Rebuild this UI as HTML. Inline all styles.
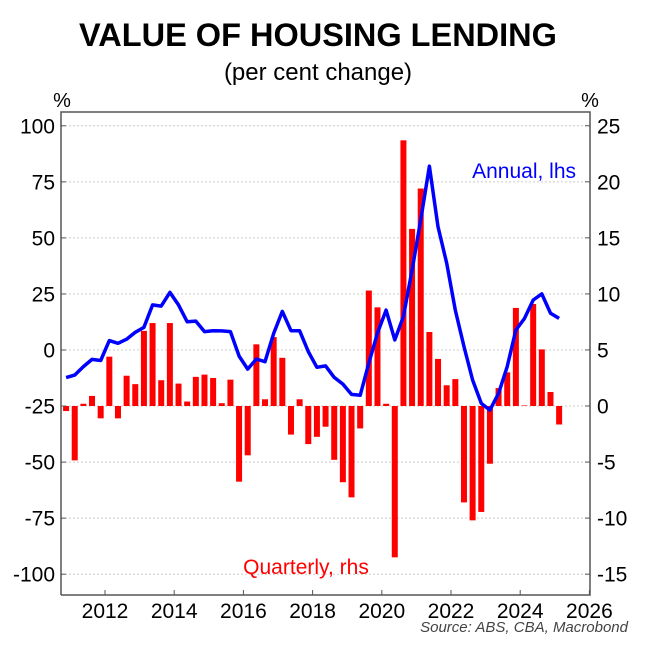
<!DOCTYPE html>
<html><head><meta charset="utf-8"><style>
body{margin:0;background:#fff;}
svg{display:block;font-family:"Liberation Sans",Arial,sans-serif;}
</style></head><body>
<svg id="chart" width="648" height="646" viewBox="0 0 648 646">
<text x="318" y="46" text-anchor="middle" font-size="32.5" font-weight="bold">VALUE OF HOUSING LENDING</text>
<text x="318" y="80" text-anchor="middle" font-size="24">(per cent change)</text>
<text x="62" y="107" text-anchor="middle" font-size="20">%</text>
<text x="590" y="107" text-anchor="middle" font-size="20">%</text>
<g id="grid"></g><g id="bars"></g><g id="line"></g><g id="axes"></g>
<text x="576" y="178" text-anchor="end" font-size="21" fill="#0000ff">Annual, lhs</text>
<text x="306" y="574" text-anchor="middle" font-size="21" fill="#ff0000">Quarterly, rhs</text>
<text x="628" y="632" text-anchor="end" font-size="15" font-style="italic" fill="#444">Source: ABS, CBA, Macrobond</text>
</svg>
<script>
const quarterlyValues=[-0.45,-4.85,0.2,0.9,-1.1,4.4,-1.1,2.7,1.95,6.7,7.4,2.3,7.4,2.0,0.4,2.6,2.8,2.5,0.25,2.35,-6.75,-4.4,5.5,0.6,6.15,4.3,-2.55,0.6,-3.4,-2.75,-1.85,-4.8,-6.8,-8.15,-2.0,10.3,8.8,0.2,-13.5,23.7,15.8,19.4,6.6,4.2,1.85,2.4,-8.6,-10.2,-9.45,-5.15,1.6,3.0,8.75,0.05,9.1,5.05,1.25,-1.65];
const annualValues=[-12.3,-11.2,-7.4,-4.2,-4.7,4.2,3.0,4.8,7.9,10.1,20.1,19.6,25.7,20.1,12.6,12.9,8.2,8.6,8.5,8.2,-2.7,-8.5,-4.0,-5.2,7.4,17.2,8.6,8.6,-0.7,-7.7,-7.1,-12.2,-15.2,-19.8,-20.2,-5.9,7.6,17.8,4.5,14.9,35.7,58,82,55,38.7,17.8,1.5,-13.4,-23.8,-26.8,-19.3,-7.4,8.9,14.1,22.3,25,16.4,14.1];
const firstQuarter=2010.875;
const leftTicks=[100,75,50,25,0,-25,-50,-75,-100];
const rightTicks=[25,20,15,10,5,0,-5,-10,-15];
const xTicks=[2012,2014,2016,2018,2020,2022,2024,2026];
const X0=61,X1=590,Y0=112,Y1=595;
const xs=y=>70.4+(y-2011)*34.6;
const yl=v=>350-v*2.242;
const yr=v=>406-v*11.21;
const NS='http://www.w3.org/2000/svg';
function mk(t,a,p){const e=document.createElementNS(NS,t);for(const k in a)e.setAttribute(k,a[k]);p.appendChild(e);return e;}
const grid=document.getElementById('grid'),axes=document.getElementById('axes'),bars=document.getElementById('bars'),lineG=document.getElementById('line');
leftTicks.forEach(v=>{
 const g=mk('line',{x1:X0,x2:X1,y1:yl(v),y2:yl(v),stroke:'#ccc','stroke-dasharray':'2,2'},grid);
 
 
 const t=mk('line',{x1:X0,x2:X0+5,y1:yl(v),y2:yl(v),stroke:'#555'},axes);
 
 
 const l=mk('text',{x:55,y:yl(v)+7.5,'text-anchor':'end','font-size':21},axes);l.textContent=v;
 
 
});
rightTicks.forEach(v=>{
 const t=mk('line',{x1:X1-5,x2:X1,y1:yr(v),y2:yr(v),stroke:'#555'},axes);
 
 
 const l=mk('text',{x:597,y:yr(v)+7.5,'font-size':21},axes);l.textContent=v;
 
 
});
xTicks.forEach(v=>{
 const t=mk('line',{x1:xs(v),x2:xs(v),y1:Y1-5,y2:Y1,stroke:'#555'},axes);
 
 
 const l=mk('text',{x:xs(v),y:618,'text-anchor':'middle','font-size':21},axes);l.textContent=v;
 
 
});
const fr=mk('path',{d:`M${X0},${Y1}V${Y0}H${X1}V${Y1}H${X0}`,fill:'none',stroke:'#555','stroke-width':1.5},axes);


quarterlyValues.forEach((v,i)=>{
 const cx=xs(firstQuarter+i*0.25);const y=yr(Math.max(v,0)),h=Math.abs(yr(v)-yr(0));
 const r=mk('rect',{x:cx-3,y:y,width:6,height:Math.max(h,0.5),fill:'#ff0000'},bars);
 
 
});
const pts=annualValues.map((v,i)=>xs(firstQuarter+i*0.25).toFixed(1)+','+yl(v).toFixed(1)).join(' ');
const pl=mk('polyline',{points:pts,fill:'none',stroke:'#0000ff','stroke-width':3.5,'stroke-linejoin':'round'},lineG);


</script>
</body></html>
